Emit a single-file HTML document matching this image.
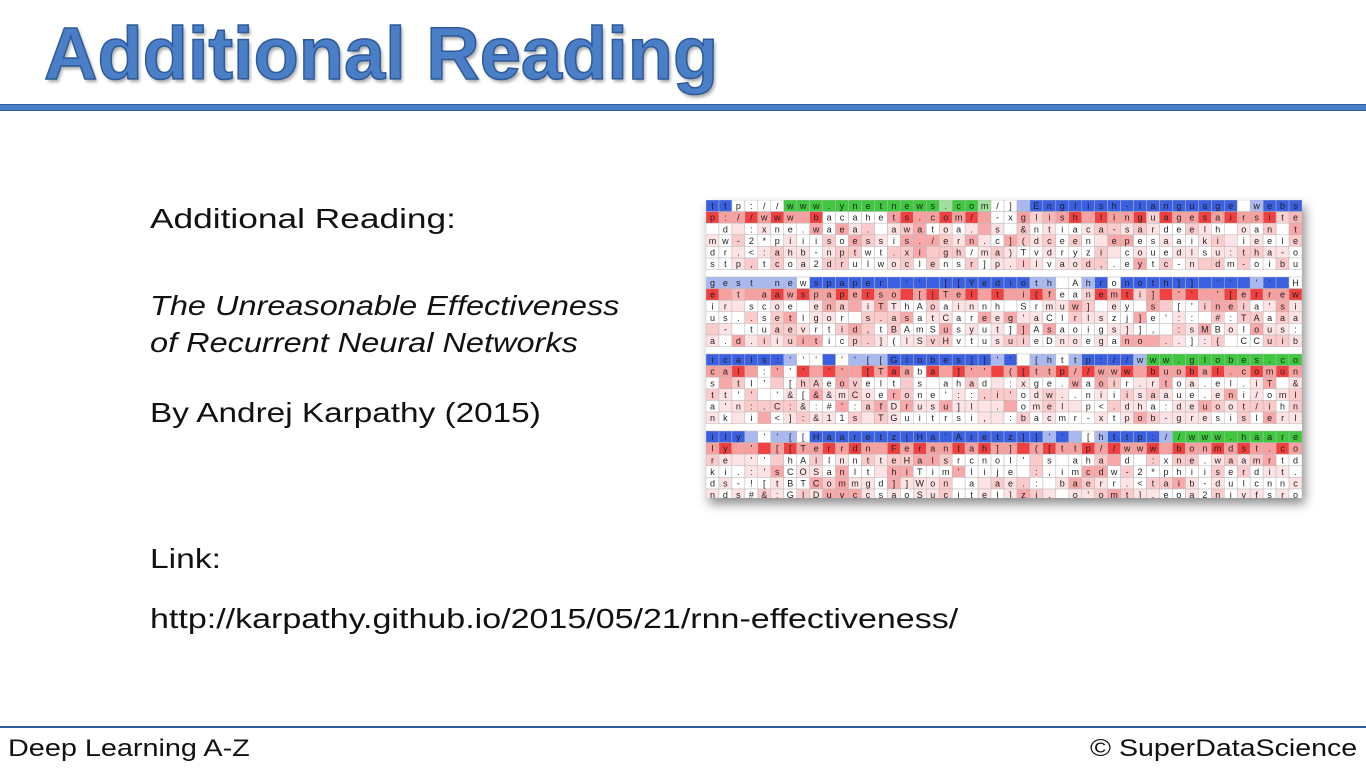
<!DOCTYPE html>
<html><head><meta charset="utf-8"><style>
body{margin:0;width:1366px;height:768px;background:#fff;position:relative;overflow:hidden;font-family:"Liberation Sans",sans-serif;color:#111}
.abs{position:absolute;white-space:nowrap;transform-origin:0 0}
#title{left:44px;top:11px;font-size:74px;font-weight:bold;color:#4a7ec6;-webkit-text-stroke:1.5px #2d5a98;text-shadow:2px 3px 3px rgba(0,0,0,.35)}
.body{font-size:28px;color:#111}
#grid{position:absolute;left:706px;top:200px;width:596px;height:298px;box-shadow:3px 6px 10px rgba(0,0,0,.45);background:#fff}
</style></head><body>
<div class="abs" id="title">Additional Reading</div>
<div class="abs" style="left:0;top:104px;width:1366px;height:5px;background:#4a7fc8;border-top:1px solid #2d5a98;border-bottom:1px solid #2d5a98"></div>
<div class="abs body" style="left:150px;top:203px;transform:scaleX(1.26)">Additional Reading:</div>
<div class="abs body" style="left:150px;top:287px;font-style:italic;line-height:37px;transform:scaleX(1.16)">The Unreasonable Effectiveness<br>of Recurrent Neural Networks</div>
<div class="abs body" style="left:150px;top:397px;transform:scaleX(1.19)">By Andrej Karpathy (2015)</div>
<div class="abs body" style="left:150px;top:543px;transform:scaleX(1.2)">Link:</div>
<div class="abs body" style="left:150px;top:603px;transform:scaleX(1.215)">http://karpathy.github.io/2015/05/21/rnn-effectiveness/</div>
<div id="grid"><svg id="gs" width="596" height="298"></svg></div>
<div class="abs" style="left:0;top:726px;width:1366px;height:2px;background:#2d5a98"></div>
<div class="abs" style="left:8px;top:735px;font-size:24px;transform:scaleX(1.2)">Deep Learning A-Z</div>
<div class="abs" style="left:1090px;top:735px;font-size:24px;transform:scaleX(1.19)">© SuperDataScience</div>
<script>
const rows=[
"ttp://www.ynetnews.com/] English-language website of Israel's lar",
"p://www bacahets.com/ -xglish linguagesairsite of tslael's sing",
" d :xne.waea. awatoa. s &ntiaca-sardeelh oan tbisanfanreif ' aatd",
"mw-2*piiisoessis./ern.c](dceen epesaaiki ieeledh.irthraonse .cose",
"dr.<:ahb-nptwt.xi gh/ma)Tvdryzi couedlsu:tha-oo tu.stuif lvepery",
"stp,tcoa2drulwoclensr]p.llvaod,.eytc-n dm-oibuvs]bb imsulta tlybn",
"gest newspaper '' [[Yedioth Ahronoth]] '' '' Hebrew-language period",
"e t aawspaperso [|Tel t i(feanemti] '' '[errewslenguage:arosodi",
"ir scoe ena iTThAoainnh Srmuw] ey s ['ineia'siwdde'hsolrifr:",
"us..setlgor s.asatCareeg'aClrlszj]e':: #:TAaaaat Baseeilo'ianfvl",
" - tuaevrtid,tBAmSusyut]]Asaoigs]], :sMBolous:Toua-n:d woa pnu",
"a.d.iiuiticp.](lSvHvtusuieDnoegano ..]:{ CCuiboheCybksls:r-epcnts",
"icals:''' ''[[Globes]]'' [http://www.globes.co.il/] business da",
"cal :''' '' [Taaba ]'' ([ttp//www buobal.comun/sA -ytiness aet",
"s tl' [hAeovelt s ahad :xge.waoir.rtoa.el.iT &ai eg eooy",
"tt'' '&[&&mCoerone'::,i'odw..niiisaaue.eni/omlcC.(eftgir iiu",
"a'n:.C:&:#':afDrusu]l . omel p<.dha:deuoot/ihncsifS. urhos t.tun",
"nk i <]:&11s TGuitrsi, :bacmr-xtpob-gresislerlnafaD]losptad.ifrm",
"ily ''[[Haaretz|Ha'Aretz]]'' [http://www.haaretz.co.il/] Relativ",
"ly ' [[Terrdn Ferantah]] ([ttp//www bonmdst.comun/s -esateoi",
"re '' hAilnntteHalsrcnol' s aha d :xne.waamrtdheoh.ol.c &opinive",
"ki.:'sCOSanlt hiTim'lije :,imcdw-2*phiiserdit.ina/cmfi.(aflcana",
"ds-![tBTCommgd]]Won a ae.: baerr.<taib-dulcnnc/arnesi ]liceysto",
"nds#&:GlDuvccsaoSucitel]zj. o'omt],eoa2nivfsrooeiunala) uvvro"
];
const topColors=[
"BBWWWWGGGGGGGGGGGGgGGgWWbBBBBBBBBBBBBBBBBWbBBBBBBBWbBBWbBBBBBBBBBWBBB",
"RRRRRRRRRWWWWWRRRRRRRRWWRrpRRRRRRRrRRRRRRRRRrpRRRRRRrRRrRRRRRRRRRRrRR",
"bbbbbbbWBBBBBBBBBBBBBBBBBbbWWbBWBBBBBBBBBBbBBWbWbbWBBBBBBBBBBBBBBBBB",
"RRpRRRRRRRRRRRRRRRRRRRRRRRRWWrRRRrRRRRRRRRRRRRRRRRRRRRRRRRRRRRRRRRRRR",
"BBBBBBbWWBWbbbBBBBBBBBbBWbbWbBBBBbGGGGGGGGGGGGGGGGgGGGGGWbWbBBBBBBBBBB",
"RRRRWRWRRRRRRRRRWRRRRRRRRRRRRRRRRRRRRRRRRRRRRRRRRRRRRRRRRRRRRRRRRRRRR",
"BBBbWbbWBBBBBBBBBBBBBBBBBBbBbWbBBBBbGGGGGGGGGGGGGGGGgGGGgbBWBBBBBBBBB",
"RRRRRRRRRRRRRRRRRRRRRRRRRRRRRRRRRRRRRRRRRRRRRRRRRRRRRRRRRRRRRRRRRRRR"
];
const cols=46, rowH=11.6, blockGap=7.4, cellW=596/cols;
const svg=document.getElementById('gs');
const NS='http://www.w3.org/2000/svg';
function shade(b,r,c,ch){
  if(r===0){const s=topColors[b*2];const k=s[c%s.length];return k==='G'?'#3fc83f':k==='g'?'#9fe09f':k==='B'?'#3a5fe0':k==='b'?'#aab8f0':'#ffffff';}
  if(r===1){const s=topColors[b*2+1];const k=s[c%s.length];return k==='R'?((c*7+b)%5<2?'#f04040':'#f7a0a0'):k==='r'?'#fbd0d0':k==='p'?'#f9b8b8':'#ffffff';}
  const v=(ch.charCodeAt(0)*13+c*7+r*3)%10;
  return v<4?'#ffffff':v<7?'#fde3e3':v<9?'#fbcaca':'#f8a8a8';
}
for(let i=0;i<rows.length;i++){
  const b=Math.floor(i/6), r=i%6;
  const y=b*(6*rowH+blockGap)+r*rowH;
  const txt=rows[i];
  for(let c=0;c<cols;c++){
    const ch=txt[c]||' ';
    const rect=document.createElementNS(NS,'rect');
    rect.setAttribute('x',c*cellW);rect.setAttribute('y',y);
    rect.setAttribute('width',cellW);rect.setAttribute('height',rowH);
    rect.setAttribute('fill',shade(b,r,c,ch));
    rect.setAttribute('stroke','#b8b8b8');rect.setAttribute('stroke-width','0.5');
    
    
    svg.appendChild(rect);
    if(ch!==' '){
      const t=document.createElementNS(NS,'text');
      t.setAttribute('x',c*cellW+cellW/2);t.setAttribute('y',y+rowH-2.5);
      t.setAttribute('text-anchor','middle');t.setAttribute('font-size','9');
      t.setAttribute('font-family','Liberation Sans, sans-serif');t.setAttribute('fill','#222');
      
      
      t.textContent=ch;svg.appendChild(t);
    }
  }
}
</script>
</body></html>
